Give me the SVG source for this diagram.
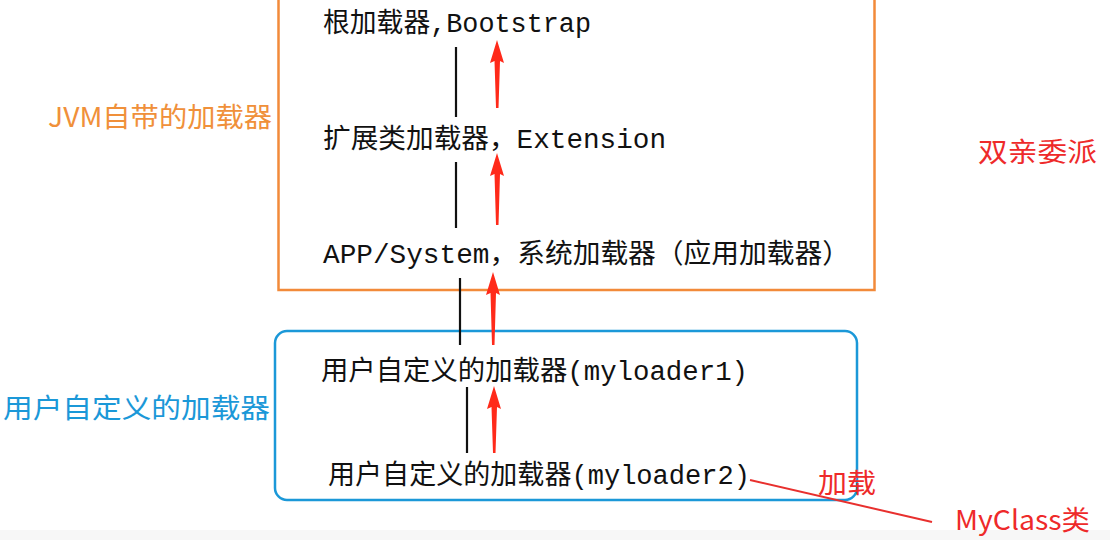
<svg xmlns="http://www.w3.org/2000/svg" width="1110" height="540" viewBox="0 0 1110 540">
<defs>
<style>
.t{font-family:"Liberation Mono","Noto Sans CJK SC",monospace;font-size:27px;fill:#111}
.c{font-family:"Noto Sans CJK SC",sans-serif;font-size:27px}
.or{fill:#f0903a}
.bl{fill:#1b98d8}
.rd{fill:#ee2a2a}
.ln{stroke:#111;stroke-width:2.2;fill:none}
.ar{fill:#ff2a1a}
</style>
</defs>
<rect width="1110" height="540" fill="#fff"/>
<rect x="0" y="530" width="1110" height="10" fill="#f7f7f7"/>
<g id="jvm-group">
<rect x="278.5" y="-5" width="596" height="295" fill="none" stroke="#f28a3a" stroke-width="2.5"/>
<text class="c or" x="48" y="127" textLength="224" lengthAdjust="spacingAndGlyphs">JVM自带的加载器</text>
</g>
<g id="user-group">
<rect x="275" y="331" width="582" height="169" rx="12" fill="none" stroke="#1b98d8" stroke-width="2.5"/>
<text class="c bl" x="3" y="418" textLength="267" lengthAdjust="spacingAndGlyphs">用户自定义的加载器</text>
</g>
<g id="bootstrap"><text class="t" x="323" y="32" textLength="268" lengthAdjust="spacingAndGlyphs">根加载器,Bootstrap</text></g>
<g id="extension"><text class="t" x="323" y="148" textLength="343" lengthAdjust="spacingAndGlyphs">扩展类加载器，Extension</text></g>
<g id="system"><text class="t" x="323" y="263" textLength="527" lengthAdjust="spacingAndGlyphs">APP/System，系统加载器（应用加载器）</text></g>
<g id="myloader1"><text class="t" x="321" y="380" textLength="427" lengthAdjust="spacingAndGlyphs">用户自定义的加载器(myloader1)</text></g>
<g id="myloader2"><text class="t" x="328" y="484" textLength="422" lengthAdjust="spacingAndGlyphs">用户自定义的加载器(myloader2)</text></g>
<g id="myclass"><text class="c rd" x="955" y="530" textLength="135" lengthAdjust="spacingAndGlyphs">MyClass类</text></g>
<g id="labels">
<text class="c rd" x="978" y="162" textLength="119" lengthAdjust="spacingAndGlyphs">双亲委派</text>
<text class="c rd" x="818" y="493" textLength="58" lengthAdjust="spacingAndGlyphs">加载</text>
</g>
<g id="connectors">
<line class="ln" x1="456" y1="47" x2="456" y2="117"/>
<line class="ln" x1="456" y1="162" x2="456" y2="228"/>
<line class="ln" x1="460" y1="278" x2="460" y2="345"/>
<line class="ln" x1="467" y1="387" x2="467" y2="453"/>
<polygon class="ar" points="497,40 504,63 500,61 498.5,108 496,108 494.5,61 490,63"/>
<polygon class="ar" points="497,153 504,176 500,174 498.5,225 496,225 494.5,174 490,176"/>
<polygon class="ar" points="493,272 500,295 496,293 494.5,345 492,345 490.5,293 486,295"/>
<polygon class="ar" points="494,386 501,409 497,407 495.5,453 493,453 491.5,407 487,409"/>
<line x1="750" y1="480" x2="932" y2="522" stroke="#e8302e" stroke-width="2"/>
</g>
</svg>
